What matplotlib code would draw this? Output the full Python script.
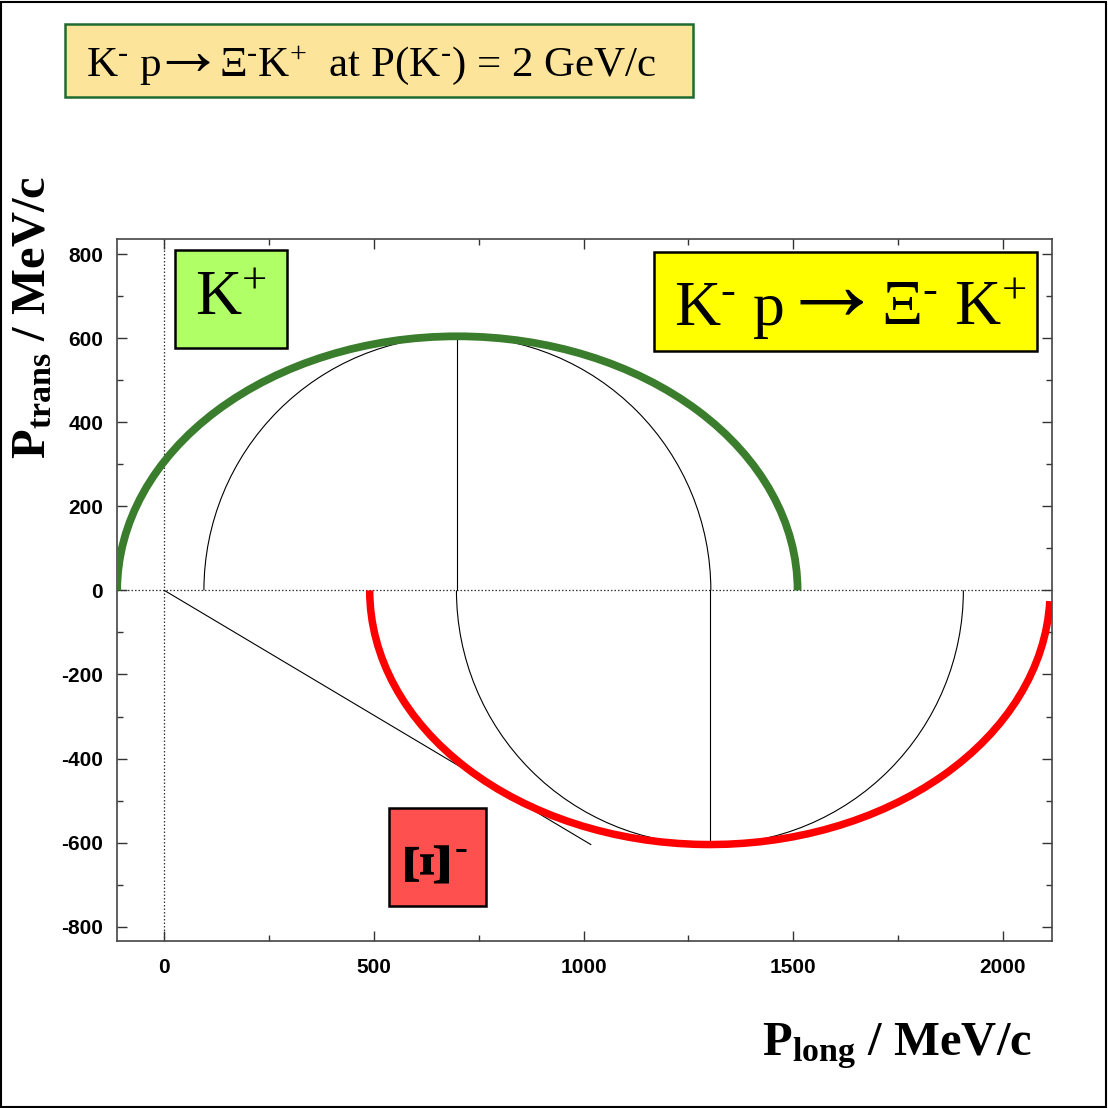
import matplotlib
matplotlib.use("Agg")
import matplotlib.pyplot as plt
from matplotlib.patches import Arc, Rectangle
from matplotlib.ticker import FixedLocator, MultipleLocator

plt.rcParams['mathtext.fontset'] = 'custom'
plt.rcParams['mathtext.rm'] = 'Liberation Serif'
plt.rcParams['mathtext.it'] = 'Liberation Serif:italic'
plt.rcParams['mathtext.bf'] = 'Liberation Serif:bold'

SERIF = ['Liberation Serif', 'DejaVu Serif']

# ---- data (MeV/c) ----
p_cm = 604.5                       # CM momentum (ellipse half-height, circle radius)
kplus_center = 698.8               # centre of K+ ellipse / circle on P_long axis
kplus_semi_long = 811.4            # half-width of K+ ellipse
xi_center = 1301.1                 # centre of Xi- ellipse / circle
xi_semi_long = 811.4               # half-width of Xi- ellipse
xi_end_angle = 358.2               # where the drawn Xi- curve stops (deg)
tangent_x = [0, 1017]
tangent_y = [0, -604.5]
xticks = [0, 500, 1000, 1500, 2000]
xtick_labels = ['0', '500', '1000', '1500', '2000']
yticks = [800, 600, 400, 200, 0, -200, -400, -600, -800]
ytick_labels = ['800', '600', '400', '200', '0', '-200', '-400', '-600', '-800']

W = H = 1108.0
fig = plt.figure(figsize=(W / 100, H / 100), dpi=100)

def fx(px):
    return px / W

def fy(py):
    return 1 - py / H

ax = fig.add_axes([fx(117), fy(941), fx(1052) - fx(117), fy(239) - fy(941)])
ax.set_xlim(-113, 2117)
ax.set_ylim(-834, 836)

green = '#3a7d2c'
red = '#ff0000'

# thick ellipses
ax.add_patch(Arc((kplus_center, 0), 2 * kplus_semi_long, 2 * p_cm, theta1=0, theta2=180,
                 color=green, lw=5.6, zorder=4))
ax.add_patch(Arc((xi_center, 0), 2 * xi_semi_long, 2 * p_cm, theta1=180, theta2=xi_end_angle,
                 color=red, lw=5.4, zorder=4))
# thin CM circles
ax.add_patch(Arc((kplus_center, 0), 2 * p_cm, 2 * p_cm, theta1=0, theta2=180,
                 color='black', lw=0.8, zorder=3))
ax.add_patch(Arc((xi_center, 0), 2 * p_cm, 2 * p_cm, theta1=180, theta2=360,
                 color='black', lw=0.8, zorder=3))
ax.plot([kplus_center, kplus_center], [0, p_cm], color='black', lw=0.8, zorder=3)
ax.plot([xi_center, xi_center], [0, -p_cm], color='black', lw=0.8, zorder=3)
ax.plot(tangent_x, tangent_y, color='black', lw=0.8, zorder=3)

# dotted zero lines
ax.axhline(0, color='#333333', lw=0.9, ls=(0, (1.2, 1.6)), zorder=2)
ax.axvline(0, color='#333333', lw=0.9, ls=(0, (1.2, 1.6)), zorder=2)

# ticks
ax.xaxis.set_major_locator(FixedLocator(xticks))
ax.yaxis.set_major_locator(FixedLocator(yticks))
ax.set_xticklabels(xtick_labels, fontweight='bold', family='Liberation Sans', fontsize=15)
ax.set_yticklabels(ytick_labels, fontweight='bold', family='Liberation Sans', fontsize=15)
ax.xaxis.set_minor_locator(MultipleLocator(250))
ax.yaxis.set_minor_locator(MultipleLocator(100))
ax.tick_params(which='both', direction='in', top=True, right=True, color='#333333', width=1.0)
ax.tick_params(which='major', length=7)
ax.tick_params(which='minor', length=4)
ax.tick_params(axis='x', pad=12)
ax.tick_params(axis='y', pad=10)
for s in ax.spines.values():
    s.set_color('#444444')
    s.set_linewidth(1.2)

# axis labels
fig.text(fx(33), fy(317), r"$\mathbf{P_{trans}}$ / MeV/c", rotation=90,
         ha='center', va='center', fontsize=35, fontweight='bold', family='Liberation Serif')
fig.text(fx(897), fy(1046), r"$\mathbf{P_{long}}$ / MeV/c",
         ha='center', va='center', fontsize=35, fontweight='bold', family='Liberation Serif')

SM = r"$^{\text{-}}$"
SP = r"$^{\text{+}}$"
ARROW = "\u2192"

# title box
fig.add_artist(Rectangle((fx(65), fy(97)), fx(693) - fx(65), fy(24) - fy(97),
                         transform=fig.transFigure, facecolor='#fde49b',
                         edgecolor='#1e6b30', lw=1.8))
fig.text(fx(86), fy(76), "K" + SM + " p", ha='left', va='baseline', fontsize=31, family=SERIF)
fig.text(fx(187), fy(74), ARROW, ha='center', va='baseline', fontsize=52, family=SERIF)
fig.text(fx(219), fy(76), "\u039e" + SM + "K" + SP + "  at P(K" + SM + ") = 2 GeV/c",
         ha='left', va='baseline', fontsize=31, family=SERIF)

# K+ box
fig.add_artist(Rectangle((fx(175), fy(348)), fx(287) - fx(175), fy(250) - fy(348),
                         transform=fig.transFigure, facecolor='#b0ff66',
                         edgecolor='black', lw=1.8, zorder=5))
fig.text(fx(231), fy(300), "K" + SP, ha='center', va='center', fontsize=46,
         family=SERIF, zorder=6)

# reaction box
fig.add_artist(Rectangle((fx(654), fy(351)), fx(1037) - fx(654), fy(252) - fy(351),
                         transform=fig.transFigure, facecolor='#ffff00',
                         edgecolor='black', lw=1.8, zorder=5))
fig.text(fx(674), fy(325), "K" + SM + " p", ha='left', va='baseline', fontsize=46,
         family=SERIF, zorder=6)
fig.text(fx(831), fy(319), ARROW, ha='center', va='baseline', fontsize=76,
         family=SERIF, zorder=6)
fig.text(fx(881), fy(325), "\u039e" + SM + " K" + SP, ha='left', va='baseline', fontsize=46,
         family=SERIF, zorder=6)

# Xi- box
fig.add_artist(Rectangle((fx(389), fy(906)), fx(486) - fx(389), fy(808) - fy(906),
                         transform=fig.transFigure, facecolor='#ff5050',
                         edgecolor='black', lw=1.8, zorder=5))
fig.text(fx(430), fy(860), "\u039e", rotation=90, ha='center', va='center', fontsize=48,
         fontweight='bold', family=SERIF, zorder=6)
fig.text(fx(461), fy(850), "-", ha='center', va='center', fontsize=28,
         fontweight='bold', family=SERIF, zorder=6)

# figure frame
fig.add_artist(Rectangle((0.001, 0.001), 0.997, 0.997, transform=fig.transFigure,
                         facecolor='none', edgecolor='black', lw=1.5))

fig.savefig('out.png', dpi=100)
